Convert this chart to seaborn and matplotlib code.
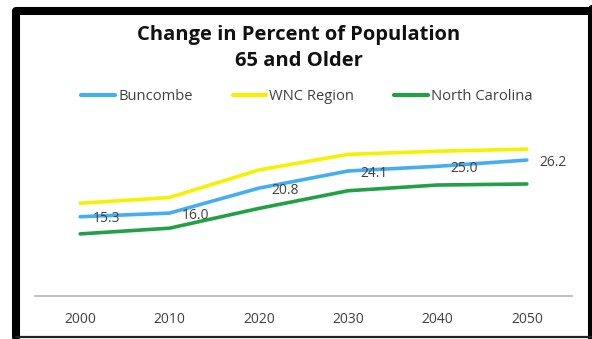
import matplotlib
matplotlib.use("Agg")
import matplotlib.pyplot as plt
from matplotlib.lines import Line2D
from matplotlib.transforms import IdentityTransform
import pandas as pd
import seaborn as sns

# Share of population aged 65 and older (%)
years = ["2000", "2010", "2020", "2030", "2040", "2050"]
buncombe = [15.3, 16.0, 20.8, 24.1, 25.0, 26.2]
wnc_region = [17.9, 19.0, 24.3, 27.3, 27.9, 28.3]
north_carolina = [12.0, 13.1, 16.9, 20.3, 21.4, 21.6]

series_names = ["Buncombe", "WNC Region", "North Carolina"]
series_colors = ["#45AEF2", "#F5F200", "#22A045"]

df = pd.DataFrame({
    "Year": years * 3,
    "Percent": buncombe + wnc_region + north_carolina,
    "Area": [n for n in series_names for _ in years],
})

sns.set_theme(style="white")
plt.rcParams["font.family"] = ["Open Sans", "DejaVu Sans"]

W, H, DPI = 592, 339, 100
fig = plt.figure(figsize=(W / DPI, H / DPI), dpi=DPI)
fig.patch.set_facecolor("white")

ax_left, ax_right, ax_bottom, ax_top = 35.5, 571.5, 296.3, 114.3
ax = fig.add_axes([ax_left / W, (H - ax_bottom) / H,
                   (ax_right - ax_left) / W, (ax_bottom - ax_top) / H])

palette = dict(zip(series_names, series_colors))
sns.lineplot(data=df, x="Year", y="Percent", hue="Area", hue_order=series_names,
             palette=palette, linewidth=2.6, ax=ax, legend=False, sort=False)

ax.set_xlim(-0.5, len(years) - 0.5)
ax.set_ylim(0, 35)
ax.set_xlabel("")
ax.set_ylabel("")
ax.set_yticks([])
ax.tick_params(axis="x", length=0, pad=11, labelsize=10, labelcolor="#404040")
for side in ["left", "right", "top"]:
    ax.spines[side].set_visible(False)
ax.spines["bottom"].set_color("#BDBDBD")
ax.spines["bottom"].set_linewidth(1.3)
ax.set_facecolor("none")

# Value labels for Buncombe
for i, v in enumerate(buncombe):
    ax.annotate(f"{v:.1f}", (i, v), xytext=(9, -1.5), textcoords="offset points",
                ha="left", va="center", fontsize=10, color="#404040")

fig.text(299 / W, (H - 48) / H, "Change in Percent of Population\n65 and Older",
         ha="center", va="center", fontsize=14.5, fontweight="bold",
         color="#111111", linespacing=1.35)

handles = [Line2D([0], [0], color=c, lw=3) for c in series_colors]
fig.legend(handles, series_names, loc="center", ncol=3,
           bbox_to_anchor=(307 / W, (H - 97) / H), frameon=False,
           fontsize=10.6, labelcolor="#404040", handlelength=2.3,
           handletextpad=0.2, columnspacing=2.7)

# Black frame around the chart
px = IdentityTransform()
fig.add_artist(Line2D([16, 16, 600], [2, 328, 328], color="black", lw=5.8,
                      solid_joinstyle="round", transform=px))
fig.add_artist(Line2D([592, 592], [330, -5], color="black", lw=5.8,
                      transform=px))
fig.add_artist(Line2D([16, 600], [2, 2], color="#222222", lw=1.6,
                      transform=px))

fig.savefig("out.png", dpi=DPI, facecolor="white")
